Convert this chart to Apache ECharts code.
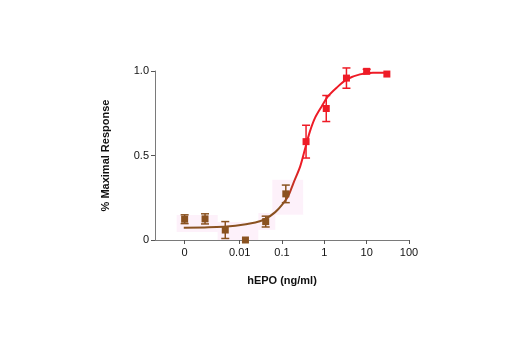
<!DOCTYPE html>
<html lang="en">
<head>
    <meta charset="UTF-8">
    <title>hEPO dose response</title>
    <script src="https://cdn.jsdelivr.net/npm/echarts@6/dist/echarts.min.js"></script>
</head>
<body style="margin:0;background:#fff">
<div style="width:520px;height:350px" id="picture"></div>
<script>
    // doses in ng/ml (3-fold series, first one is the zero dose)
    var doses = [0, 0.00152, 0.00457, 0.0137, 0.0412, 0.123, 0.37, 1.11, 3.33, 10, 30];
    var response = [0.123, 0.125, 0.059, 0.0, 0.109, 0.273, 0.582, 0.778, 0.958, 0.998, 0.982];
    var errors = [0.026, 0.03, 0.05, 0, 0.032, 0.052, 0.097, 0.077, 0.06, 0.012, 0];
    var pointColor = ['b', 'b', 'b', 'b', 'b', 'b', 'r', 'r', 'r', 'r', 'r'];

    // fitted curve (x in log10 units)
    var fitX = [-3.32, -2.73, -2.1, -1.63, -1.4, -1.16, -1.0, -0.85, -0.73, -0.57, -0.45, -0.34, -0.22, -0.06, 0.09, 0.29, 0.53, 0.84, 1.15, 1.51];
    var fitY = [0.073, 0.075, 0.085, 0.103, 0.123, 0.165, 0.208, 0.262, 0.337, 0.436, 0.545, 0.643, 0.723, 0.792, 0.851, 0.901, 0.951, 0.98, 0.99, 0.99];

    var xTickPos = [-3.3, -2, -1, 0, 1, 2];
    var xTickText = ['0', '0.01', '0.1', '1', '10', '100'];
    var yTicks = [0, 0.5, 1];
    var yTickText = ['0', '0.5', '1.0'];

    // faint pink patches behind the low points [x0, y0, x1, y1]
    var patches = [
        [-3.49, 0.048, -2.52, 0.148],
        [-2.52, -0.03, -1.56, 0.107],
        [-1.56, 0.06, -1.16, 0.16],
        [-1.23, 0.149, -0.5, 0.357]
    ];

    var BROWN = '#8a5220';
    var RED = '#ee1b26';
    var zeroPos = -3.3;

    function toLog(d) {
        return d === 0 ? zeroPos : Math.log10(d);
    }

    var pts = [];
    for (var i = 0; i < doses.length; i++) {
        pts.push({
            value: [toLog(doses[i]), response[i], errors[i]],
            itemStyle: {color: pointColor[i] === 'b' ? BROWN : RED, opacity: 1}
        });
    }
    var fit = [];
    for (var j = 0; j < fitX.length; j++) {
        fit.push([fitX[j], fitY[j]]);
    }
    var areas = [];
    for (var k = 0; k < patches.length; k++) {
        areas.push([{coord: [patches[k][0], patches[k][1]]}, {coord: [patches[k][2], patches[k][3]]}]);
    }

    var font = 'Liberation Sans';
    var myChart = echarts.init(document.getElementById('picture'));
    var option = {
        animation: false,
        grid: {left: 155, right: 111, top: 71, bottom: 110},
        xAxis: {
            type: 'value',
            min: -4,
            max: 2,
            splitLine: {show: false},
            axisLine: {onZero: false, lineStyle: {color: '#7a7a7a', width: 1}},
            axisTick: {customValues: xTickPos, length: 4, lineStyle: {color: '#555'}},
            axisLabel: {
                customValues: xTickPos,
                color: '#111',
                fontFamily: font,
                fontSize: 11,
                margin: 7,
                formatter: function (v) {
                    var idx = xTickPos.indexOf(v);
                    return idx >= 0 ? xTickText[idx] : '';
                }
            },
            name: 'hEPO (ng/ml)',
            nameLocation: 'middle',
            nameGap: 35,
            nameTextStyle: {color: '#111', fontFamily: font, fontSize: 11, fontWeight: 'bold'}
        },
        yAxis: {
            type: 'value',
            min: 0,
            max: 1,
            splitLine: {show: false},
            axisLine: {show: true, onZero: false, lineStyle: {color: '#7a7a7a', width: 1}},
            axisTick: {show: true, customValues: yTicks, length: 4, lineStyle: {color: '#555'}},
            axisLabel: {
                customValues: yTicks,
                color: '#111',
                fontFamily: font,
                fontSize: 11,
                margin: 6,
                formatter: function (v) {
                    var idx = yTicks.indexOf(v);
                    return idx >= 0 ? yTickText[idx] : '';
                }
            },
            name: '% Maximal Response',
            nameLocation: 'middle',
            nameGap: 44,
            nameTextStyle: {color: '#111', fontFamily: font, fontSize: 11, fontWeight: 'bold'}
        },
        series: [
            {
                type: 'line',
                data: fit,
                smooth: 0.3,
                showSymbol: false,
                z: 2,
                lineStyle: {
                    width: 2,
                    color: {
                        type: 'linear', x: 0, y: 0, x2: 1, y2: 0,
                        colorStops: [
                            {offset: 0, color: BROWN},
                            {offset: 0.48, color: BROWN},
                            {offset: 0.57, color: RED},
                            {offset: 1, color: RED}
                        ]
                    }
                },
                markArea: {
                    silent: true,
                    itemStyle: {color: 'rgba(248, 215, 240, 0.35)'},
                    data: areas
                }
            },
            {
                type: 'custom',
                data: pts,
                z: 3,
                renderItem: function (params, api) {
                    var x = api.value(0), y = api.value(1), e = api.value(2);
                    var c = pointColor[params.dataIndex] === 'b' ? BROWN : RED;
                    var top = api.coord([x, y + e]);
                    var bot = api.coord([x, y - e]);
                    var half = 4;
                    if (e <= 0) {
                        return {type: 'group', children: []};
                    }
                    return {
                        type: 'group',
                        children: [
                            {type: 'line', shape: {x1: top[0], y1: top[1], x2: bot[0], y2: bot[1]}, style: {stroke: c, lineWidth: 1.5}},
                            {type: 'line', shape: {x1: top[0] - half, y1: top[1], x2: top[0] + half, y2: top[1]}, style: {stroke: c, lineWidth: 1.5}},
                            {type: 'line', shape: {x1: bot[0] - half, y1: bot[1], x2: bot[0] + half, y2: bot[1]}, style: {stroke: c, lineWidth: 1.5}}
                        ]
                    };
                }
            },
            {
                type: 'scatter',
                data: pts,
                symbol: 'rect',
                symbolSize: 7,
                z: 4,
                clip: false
            }
        ]
    };
    myChart.setOption(option);
</script>
</body>
</html>
